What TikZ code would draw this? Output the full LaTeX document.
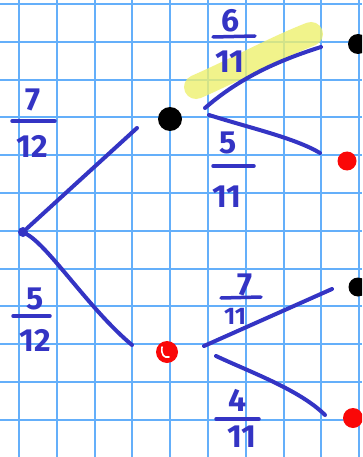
\documentclass[tikz,border=0pt]{standalone}
\usepackage{fontspec}
\setmainfont{Fira Sans}
\usetikzlibrary{shapes.geometric}
\definecolor{ink}{RGB}{52,52,196}
\definecolor{gridblue}{RGB}{100,175,250}
\definecolor{hl}{RGB}{238,240,110}
\definecolor{dotred}{RGB}{250,8,8}
\tikzset{
  gridline/.style={draw=gridblue,line width=2pt},
  branch/.style={draw=ink,line width=4pt,line cap=round},
  fracbar/.style={draw=ink,line width=3.5pt,line cap=round},
  num/.style={text=ink,inner sep=0pt,font=\fontsize{32}{34}\selectfont\bfseries},
  smallnum/.style={num,font=\fontsize{24}{26}\selectfont\bfseries},
  blackdot/.style={ellipse,fill=black,inner sep=0pt,minimum size=#1},
  reddot/.style={ellipse,fill=dotred,inner sep=0pt,minimum size=#1},
  rootdot/.style={circle,fill=ink,inner sep=0pt,minimum size=10pt},
  marker/.style={draw=hl,line width=24pt,line cap=round,opacity=0.8}
}
\begin{document}
\begin{tikzpicture}[x=1pt,y=-1pt]
\useasboundingbox (0,0) rectangle (362,457);
\clip (0,0) rectangle (362,457);
\fill[white] (0,0) rectangle (362,457);
% graph paper
\foreach \i in {0,...,9} \draw[gridline] (19+37.8*\i,0) -- (19+37.8*\i,457);
\foreach \j in {0,...,12} \draw[gridline] (0,4+37.8*\j) -- (362,4+37.8*\j);

% highlighter stroke
\coordinate (hlA) at (196,87);
\coordinate (hlB) at (311,34);
\draw[marker] (hlA) .. controls (235,70) and (275,48) .. (hlB);

% dots
\node[rootdot] (root) at (23,232) {};
\node[blackdot=24pt] (b1) at (170,119) {};
\node[reddot=22pt] (r1) at (167,352) {};
\draw[white,line width=1.6pt,line cap=round] (162,347) .. controls (161,355) and (164,358) .. (169,357);
\node[blackdot=20pt] (b2) at (358,44) {};
\node[reddot=19pt] (r2) at (347,161) {};
\node[blackdot=19pt] (b3) at (358,287) {};
\node[reddot=20pt] (r3) at (353,418) {};

% branch end points
\coordinate (e1) at (137,128);
\coordinate (e2) at (132,345);
\coordinate (s3) at (205,108);
\coordinate (e3) at (321,47);
\coordinate (s4) at (209,115);
\coordinate (e4) at (320,153);
\coordinate (s5) at (204,346);
\coordinate (e5) at (332,289);
\coordinate (s6) at (216,356);
\coordinate (e6) at (325,415);

% branches
\draw[branch] (root) -- (e1);
\draw[branch] (root) .. controls (50,248) and (90,310) .. (e2);
\draw[branch] (s3) .. controls (235,82) and (270,63) .. (e3);
\draw[branch] (s4) .. controls (250,128) and (295,138) .. (e4);
\draw[branch] (s5) -- (e5);
\draw[branch] (s6) .. controls (250,372) and (300,390) .. (e6);

% fraction 7/12
\node[num] (n1) at (33,100) {7};
\coordinate (f1a) at (12,121); \coordinate (f1b) at (55,121);
\draw[fracbar] (f1a) -- (f1b);
\node[num] (d1) at (32,146) {12};

% fraction 5/12
\node[num] (n2) at (35,299) {5};
\coordinate (f2a) at (13,316); \coordinate (f2b) at (50,316);
\draw[fracbar] (f2a) -- (f2b);
\node[num] (d2) at (35,340) {12};

% fraction 6/11
\node[num] (n3) at (231,21) {6};
\coordinate (f3a) at (213,37); \coordinate (f3b) at (255,36);
\draw[fracbar] (f3a) -- (f3b);
\node[num] (d3) at (230,62) {11};

% fraction 5/11
\node[num] (n4) at (228,143) {5};
\coordinate (f4a) at (213,166); \coordinate (f4b) at (254,166);
\draw[fracbar] (f4a) -- (f4b);
\node[num] (d4) at (227,197) {11};

% fraction 7/11
\node[num] (n5) at (245,285) {7};
\coordinate (f5a) at (221,298); \coordinate (f5b) at (261,297);
\draw[fracbar] (f5a) -- (f5b);
\node[smallnum] (d5) at (235,316) {11};

% fraction 4/11
\node[num] (n6) at (238,400) {4};
\coordinate (f6a) at (216,419); \coordinate (f6b) at (259,419);
\draw[fracbar] (f6a) -- (f6b);
\node[num] (d6) at (242,437) {11};
\end{tikzpicture}
\end{document}
